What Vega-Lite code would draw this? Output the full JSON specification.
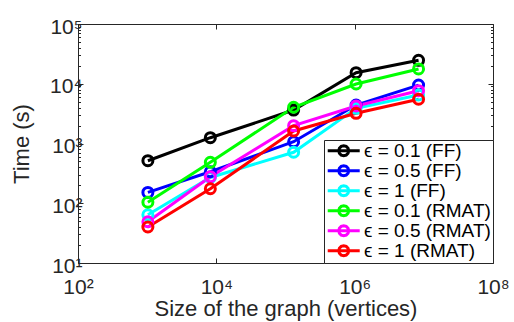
{
  "$schema": "https://vega.github.io/schema/vega-lite/v6.json",
  "autosize": "none",
  "width": 415,
  "height": 239,
  "padding": {"left": 78, "top": 24, "right": 21, "bottom": 59},
  "background": "white",
  "config": {
    "view": {"stroke": null},
    "font": "Liberation Sans",
    "axis": {
      "domainColor": "#262626",
      "domainWidth": 1,
      "tickColor": "#262626",
      "tickWidth": 1,
      "labelColor": "#262626",
      "titleColor": "#262626",
      "labelFont": "Liberation Sans",
      "titleFont": "Liberation Sans",
      "labelFontSize": 21,
      "titleFontSize": 22,
      "titleFontWeight": "normal",
      "grid": false,
      "labelOverlap": false,
      "labelFlush": false
    }
  },
  "data": {
    "values": [
      {"s": "ϵ = 0.1 (FF)", "i": 1, "x": 1024, "y": 515},
      {"s": "ϵ = 0.1 (FF)", "i": 1, "x": 8192, "y": 1250},
      {"s": "ϵ = 0.1 (FF)", "i": 1, "x": 131072, "y": 3630},
      {"s": "ϵ = 0.1 (FF)", "i": 1, "x": 1048576, "y": 15300},
      {"s": "ϵ = 0.1 (FF)", "i": 1, "x": 8388608, "y": 24700},
      {"s": "ϵ = 0.5 (FF)", "i": 2, "x": 1024, "y": 152},
      {"s": "ϵ = 0.5 (FF)", "i": 2, "x": 8192, "y": 337},
      {"s": "ϵ = 0.5 (FF)", "i": 2, "x": 131072, "y": 1070},
      {"s": "ϵ = 0.5 (FF)", "i": 2, "x": 1048576, "y": 4400},
      {"s": "ϵ = 0.5 (FF)", "i": 2, "x": 8388608, "y": 9500},
      {"s": "ϵ = 1 (FF)", "i": 3, "x": 1024, "y": 64},
      {"s": "ϵ = 1 (FF)", "i": 3, "x": 8192, "y": 270},
      {"s": "ϵ = 1 (FF)", "i": 3, "x": 131072, "y": 713},
      {"s": "ϵ = 1 (FF)", "i": 3, "x": 1048576, "y": 3880},
      {"s": "ϵ = 1 (FF)", "i": 3, "x": 8388608, "y": 6490},
      {"s": "ϵ = 0.1 (RMAT)", "i": 4, "x": 1024, "y": 104},
      {"s": "ϵ = 0.1 (RMAT)", "i": 4, "x": 8192, "y": 484},
      {"s": "ϵ = 0.1 (RMAT)", "i": 4, "x": 131072, "y": 4040},
      {"s": "ϵ = 0.1 (RMAT)", "i": 4, "x": 1048576, "y": 9900},
      {"s": "ϵ = 0.1 (RMAT)", "i": 4, "x": 8388608, "y": 17700},
      {"s": "ϵ = 0.5 (RMAT)", "i": 5, "x": 1024, "y": 49},
      {"s": "ϵ = 0.5 (RMAT)", "i": 5, "x": 8192, "y": 278},
      {"s": "ϵ = 0.5 (RMAT)", "i": 5, "x": 131072, "y": 1990},
      {"s": "ϵ = 0.5 (RMAT)", "i": 5, "x": 1048576, "y": 4250},
      {"s": "ϵ = 0.5 (RMAT)", "i": 5, "x": 8388608, "y": 7650},
      {"s": "ϵ = 1 (RMAT)", "i": 6, "x": 1024, "y": 40},
      {"s": "ϵ = 1 (RMAT)", "i": 6, "x": 8192, "y": 175},
      {"s": "ϵ = 1 (RMAT)", "i": 6, "x": 131072, "y": 1620},
      {"s": "ϵ = 1 (RMAT)", "i": 6, "x": 1048576, "y": 3200},
      {"s": "ϵ = 1 (RMAT)", "i": 6, "x": 8388608, "y": 5500}
    ]
  },
  "resolve": {"axis": {"x": "independent", "y": "independent"}},
  "layer": [
    {
      "mark": {"type": "line", "strokeWidth": 3, "clip": true},
      "encoding": {
        "x": {
          "field": "x", "type": "quantitative",
          "scale": {"type": "log", "domain": [100, 100000000], "nice": false},
          "axis": {
            "orient": "bottom",
            "title": "Size of the graph (vertices)",
            "values": [100, 10000, 1000000, 100000000],
            "labelExpr": "'10' + ['⁰','¹','²','³','⁴','⁵','⁶','⁷','⁸'][round(log(datum.value)/LN10)]",
            "tickSize": -5,
            "labelPadding": 18,
            "titlePadding": 1
          }
        },
        "y": {
          "field": "y", "type": "quantitative",
          "scale": {"type": "log", "domain": [10, 100000], "nice": false},
          "axis": {
            "orient": "left",
            "title": "Time (s)",
            "values": [10,20,30,40,50,60,70,80,90,100,200,300,400,500,600,700,800,900,1000,2000,3000,4000,5000,6000,7000,8000,9000,10000,20000,30000,40000,50000,60000,70000,80000,90000,100000],
            "labelExpr": "abs(log(datum.value)/LN10 - round(log(datum.value)/LN10)) < 0.001 ? '10' + ['⁰','¹','²','³','⁴','⁵','⁶','⁷','⁸'][round(log(datum.value)/LN10)] : ''",
            "tickSize": {"condition": {"test": "abs(log(datum.value)/LN10 - round(log(datum.value)/LN10)) < 0.001", "value": -5}, "value": -2.5},
            "labelPadding": 1,
            "labelOffset": 3,
            "titlePadding": 16
          }
        },
        "color": {
          "field": "s", "type": "nominal",
          "scale": {
            "domain": ["ϵ = 0.1 (FF)", "ϵ = 0.5 (FF)", "ϵ = 1 (FF)", "ϵ = 0.1 (RMAT)", "ϵ = 0.5 (RMAT)", "ϵ = 1 (RMAT)"],
            "range": ["#000000", "#0000ff", "#00ffff", "#00ff00", "#ff00ff", "#ff0000"]
          },
          "legend": {
            "title": null,
            "orient": "bottom-right",
            "offset": 0,
            "padding": 2,
            "rowPadding": 0,
            "clipHeight": 17.5,
            "strokeColor": "#262626",
            "fillColor": "white",
            "symbolType": "M-1.23,0L3.83,0M2.09,0L1.984,0.395L1.695,0.684L1.3,0.79L0.905,0.684L0.616,0.395L0.51,0L0.616,-0.395L0.905,-0.684L1.3,-0.79L1.695,-0.684L1.984,-0.395Z",
            "symbolSize": 160,
            "symbolStrokeWidth": 3,
            "symbolFillColor": "transparent",
            "labelFont": "Liberation Sans",
            "labelFontSize": 19,
            "labelColor": "#000000",
            "labelOffset": 19
          }
        },
        "order": {"field": "x", "type": "quantitative"}
      }
    },
    {
      "mark": {"type": "point", "filled": false, "size": 100, "strokeWidth": 3, "opacity": 1},
      "encoding": {
        "x": {
          "field": "x", "type": "quantitative",
          "scale": {"type": "log", "domain": [100, 100000000], "nice": false},
          "axis": {
            "orient": "top", "title": null, "labels": false,
            "values": [100, 10000, 1000000, 100000000],
            "tickSize": -5
          }
        },
        "y": {
          "field": "y", "type": "quantitative",
          "scale": {"type": "log", "domain": [10, 100000], "nice": false},
          "axis": {
            "orient": "right", "title": null, "labels": false,
            "values": [10,20,30,40,50,60,70,80,90,100,200,300,400,500,600,700,800,900,1000,2000,3000,4000,5000,6000,7000,8000,9000,10000,20000,30000,40000,50000,60000,70000,80000,90000,100000],
            "tickSize": {"condition": {"test": "abs(log(datum.value)/LN10 - round(log(datum.value)/LN10)) < 0.001", "value": -5}, "value": -2.5}
          }
        },
        "color": {"field": "s", "type": "nominal"},
        "order": {"field": "i", "type": "quantitative"}
      }
    }
  ]
}
